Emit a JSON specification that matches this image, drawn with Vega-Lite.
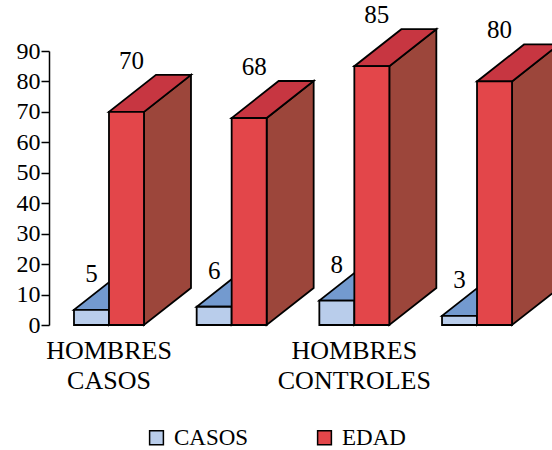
{
  "$schema": "https://vega.github.io/schema/vega-lite/v6.json",
  "width": 488,
  "height": 274,
  "autosize": {"type": "none"},
  "padding": {"left": 49, "top": 51, "right": 15, "bottom": 125},
  "background": "white",
  "config": {"view": {"stroke": null}, "font": "Liberation Serif, DejaVu Serif, serif"},
  "data": {
    "values": [
      {"grupo": "HOMBRES CASOS", "serie": "CASOS", "valor": 5},
      {"grupo": "HOMBRES CASOS", "serie": "EDAD", "valor": 70},
      {"grupo": "MUJERES CASOS", "serie": "CASOS", "valor": 6},
      {"grupo": "MUJERES CASOS", "serie": "EDAD", "valor": 68},
      {"grupo": "HOMBRES CONTROLES", "serie": "CASOS", "valor": 8},
      {"grupo": "HOMBRES CONTROLES", "serie": "EDAD", "valor": 85},
      {"grupo": "MUJERES CONTROLES", "serie": "CASOS", "valor": 3},
      {"grupo": "MUJERES CONTROLES", "serie": "EDAD", "valor": 80}
    ]
  },
  "encoding": {
    "x": {
      "field": "grupo",
      "type": "nominal",
      "sort": null,
      "scale": {
        "domain": ["HOMBRES CASOS", "MUJERES CASOS", "HOMBRES CONTROLES", "MUJERES CONTROLES"],
        "paddingInner": 0.4295,
        "paddingOuter": 0.2037
      },
      "axis": {
        "title": null,
        "domain": false,
        "ticks": false,
        "labelAngle": 0,
        "labelFont": "Liberation Serif, DejaVu Serif, serif",
        "labelFontSize": 26,
        "labelColor": "black",
        "labelPadding": 12,
        "labelBaseline": "top",
        "labelLineHeight": 30,
        "labelLimit": 0,
        "labelOverlap": false,
        "labelExpr": "slice(datum.value, 0, 7) == 'HOMBRES' ? split(datum.value, ' ') : ''"
      }
    },
    "xOffset": {
      "field": "serie",
      "type": "nominal",
      "scale": {"domain": ["CASOS", "EDAD"], "paddingInner": 0, "paddingOuter": 0}
    },
    "y": {
      "field": "valor",
      "type": "quantitative",
      "scale": {"domain": [0, 90], "nice": false},
      "axis": {
        "title": null,
        "values": [0, 10, 20, 30, 40, 50, 60, 70, 80, 90],
        "grid": false,
        "labelFont": "Liberation Serif, DejaVu Serif, serif",
        "labelFontSize": 24,
        "labelColor": "black",
        "labelPadding": 1,
        "tickColor": "black",
        "tickWidth": 1.5,
        "tickSize": 8,
        "domainColor": "black",
        "domainWidth": 1.5
      }
    }
  },
  "layer": [
    {
      "transform": [{"filter": "datum.serie == 'CASOS'"}],
      "layer": [
        {
          "mark": {
            "type": "point",
            "filled": true,
            "opacity": 1,
            "size": 4,
            "fill": "#5b82bd",
            "stroke": "black",
            "strokeWidth": 1.8,
            "shape": {"expr": "'M17.5,0L64.5,-37L64.5,' + (scale('y', 0) - scale('y', datum.valor) - 37) + 'L17.5,' + (scale('y', 0) - scale('y', datum.valor)) + 'Z'"}
          }
        },
        {
          "mark": {
            "type": "point",
            "filled": true,
            "opacity": 1,
            "size": 4,
            "fill": "#739acf",
            "stroke": "black",
            "strokeWidth": 1.8,
            "shape": "M-17.5,0L17.5,0L64.5,-37L29.5,-37Z"
          }
        },
        {
          "mark": {"type": "bar", "stroke": "black", "strokeWidth": 1.8, "opacity": 1},
          "encoding": {
            "color": {
              "field": "serie",
              "type": "nominal",
              "scale": {"domain": ["CASOS", "EDAD"], "range": ["#b9cdeb", "#e3464a"]},
              "legend": {
                "orient": "none",
                "direction": "horizontal",
                "legendX": 96,
                "legendY": 375,
                "title": null,
                "symbolType": "square",
                "symbolSize": 190,
                "symbolStrokeColor": "black",
                "symbolStrokeWidth": 1.5,
                "symbolOpacity": 1,
                "labelFont": "Liberation Serif, DejaVu Serif, serif",
                "labelFontSize": 23,
                "labelColor": "black",
                "labelOffset": 6,
                "columnPadding": 64
              }
            }
          }
        }
      ]
    },
    {
      "transform": [{"filter": "datum.serie == 'EDAD'"}],
      "layer": [
        {
          "mark": {
            "type": "point",
            "filled": true,
            "opacity": 1,
            "size": 4,
            "fill": "#9c463b",
            "stroke": "black",
            "strokeWidth": 1.8,
            "shape": {"expr": "'M17.5,0L64.5,-37L64.5,' + (scale('y', 0) - scale('y', datum.valor) - 37) + 'L17.5,' + (scale('y', 0) - scale('y', datum.valor)) + 'Z'"}
          }
        },
        {
          "mark": {
            "type": "point",
            "filled": true,
            "opacity": 1,
            "size": 4,
            "fill": "#c73641",
            "stroke": "black",
            "strokeWidth": 1.8,
            "shape": "M-17.5,0L17.5,0L64.5,-37L29.5,-37Z"
          }
        },
        {
          "mark": {"type": "bar", "stroke": "black", "strokeWidth": 1.8, "opacity": 1},
          "encoding": {
            "color": {"field": "serie", "type": "nominal"}
          }
        }
      ]
    },
    {
      "mark": {
        "type": "text",
        "font": "Liberation Serif, DejaVu Serif, serif",
        "fontSize": 25,
        "color": "black",
        "baseline": "middle",
        "yOffset": {"expr": "datum.serie == 'EDAD' ? -51 : -36"},
        "dx": {"expr": "datum.serie == 'EDAD' ? 5 : 0"}
      },
      "encoding": {
        "text": {"field": "valor", "type": "quantitative"}
      }
    }
  ]
}
